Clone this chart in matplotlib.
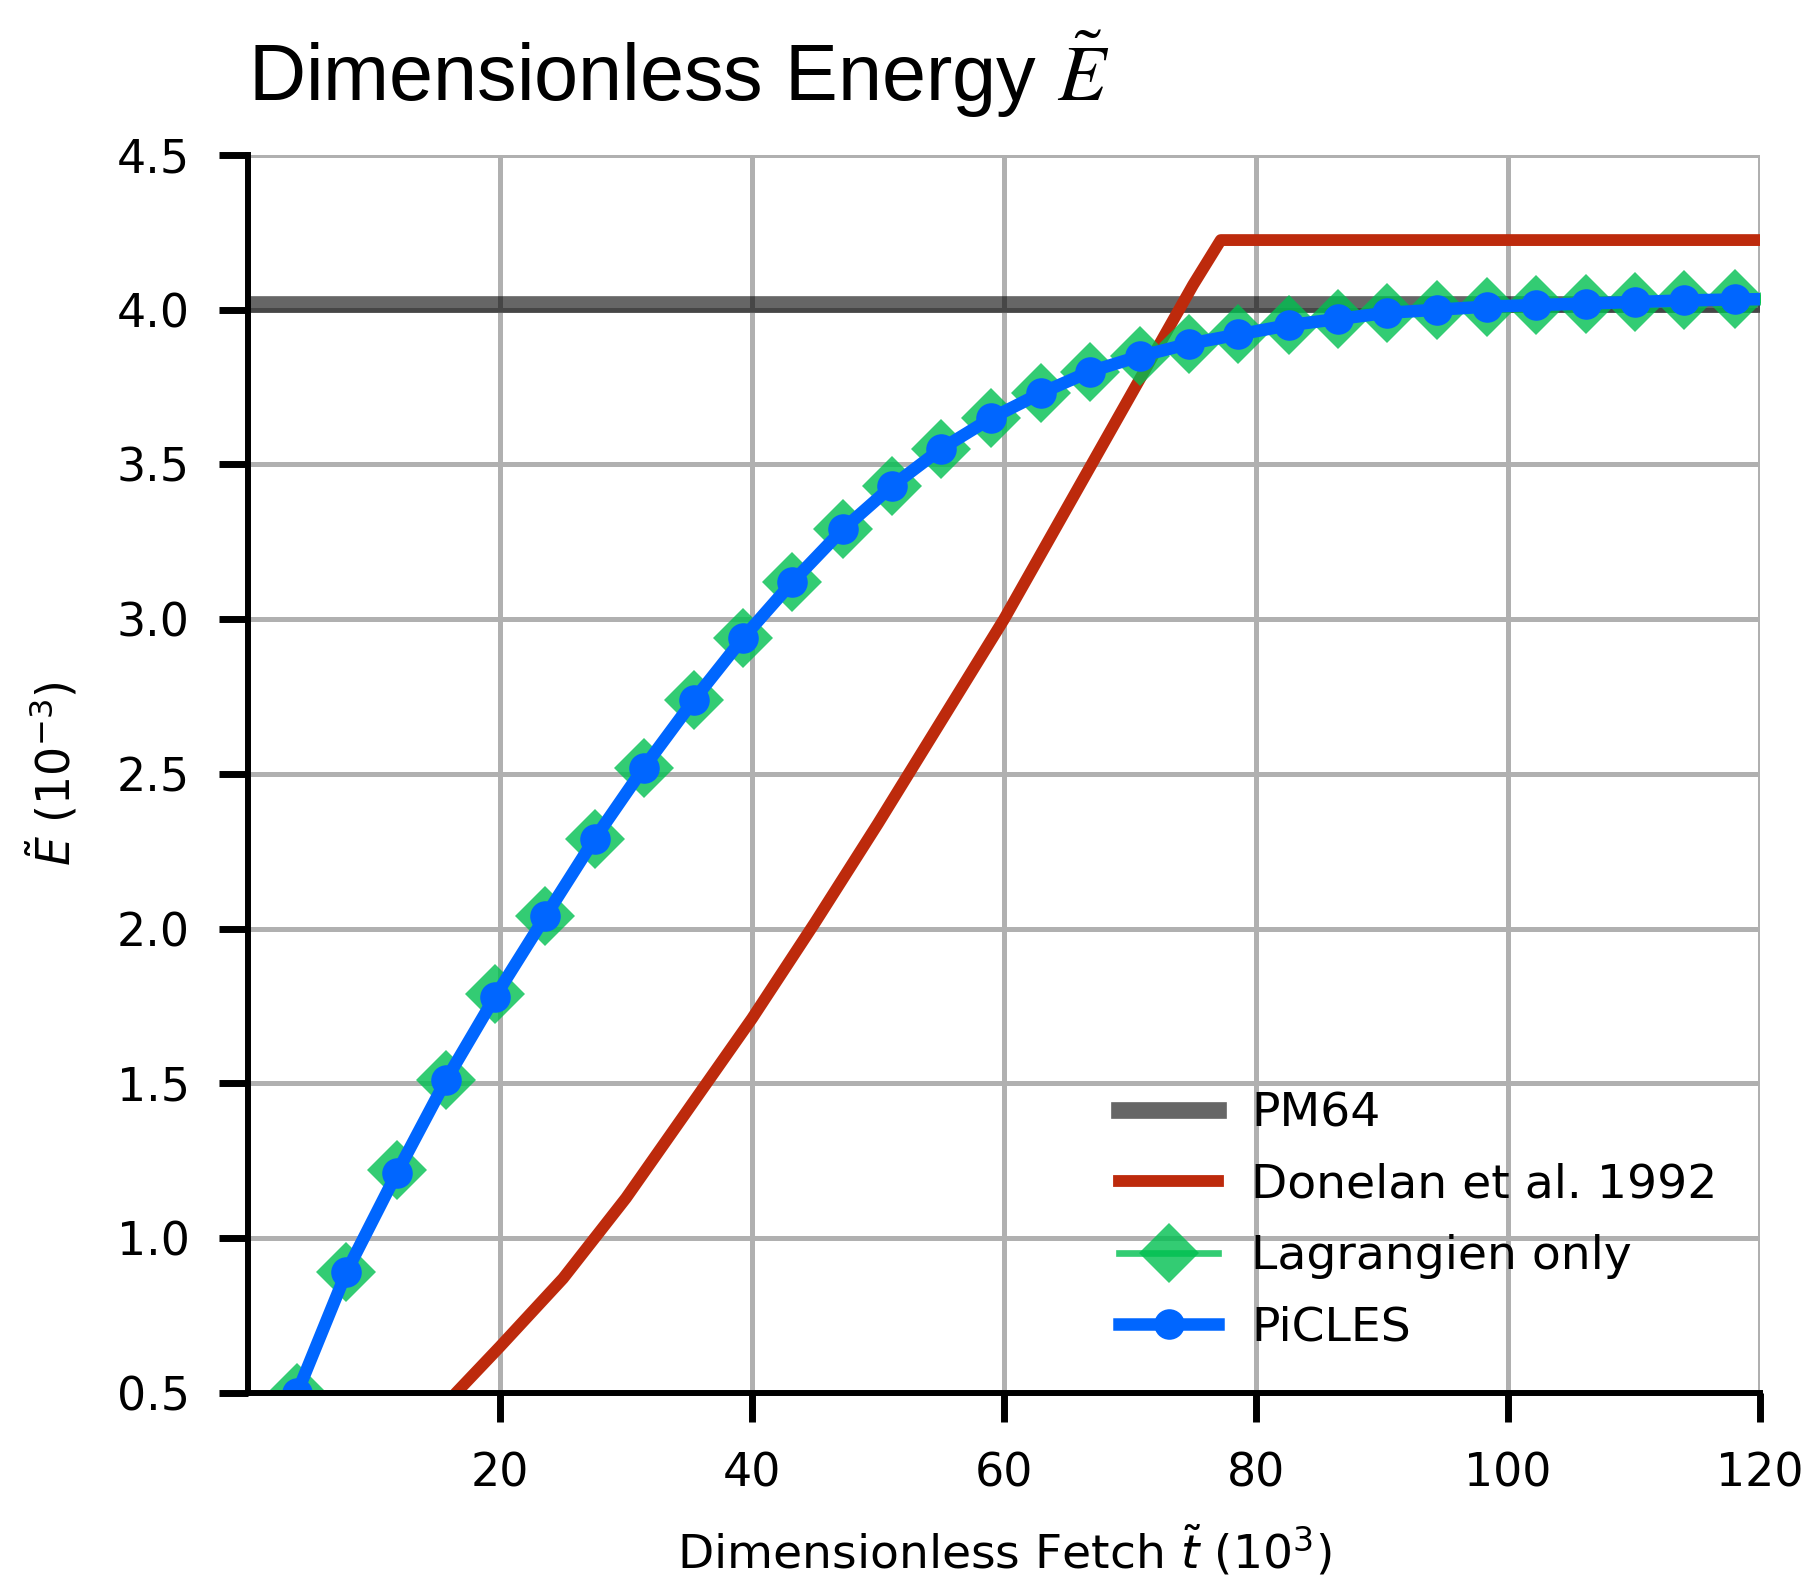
import matplotlib
matplotlib.use("Agg")
import matplotlib.pyplot as plt

# Dimensionless fetch (10^3) of the model outputs
fetch = [3.9, 7.8, 11.8, 15.7, 19.6, 23.6, 27.5, 31.4, 35.4, 39.3,
         43.2, 47.2, 51.1, 55.0, 59.0, 62.9, 66.8, 70.8, 74.7, 78.6,
         82.6, 86.5, 90.4, 94.4, 98.3, 102.2, 106.2, 110.1, 114.0, 118.0, 121.9]

# Dimensionless energy (10^-3)
energy_lagr = [0.50, 0.89, 1.22, 1.51, 1.79, 2.04, 2.29, 2.52, 2.74, 2.94,
               3.12, 3.29, 3.43, 3.55, 3.65, 3.73, 3.80, 3.85, 3.89, 3.92,
               3.95, 3.97, 3.99, 4.00, 4.01, 4.015, 4.02, 4.025, 4.03, 4.033, 4.035]
energy_picles = [0.50, 0.89, 1.21, 1.51, 1.78, 2.04, 2.29, 2.52, 2.74, 2.94,
                 3.12, 3.29, 3.43, 3.55, 3.65, 3.73, 3.80, 3.85, 3.89, 3.92,
                 3.95, 3.97, 3.99, 4.00, 4.01, 4.015, 4.02, 4.025, 4.03, 4.033, 4.035]

# Donelan et al. (1992) growth curve and its fully developed plateau
donelan_t = [14.5, 16.5, 20, 25, 30, 35, 40, 45, 50, 55, 60, 65, 70, 75, 77.2, 125]
donelan_E = [0.40, 0.50, 0.65, 0.87, 1.13, 1.42, 1.71, 2.02, 2.34, 2.67,
             3.00, 3.36, 3.72, 4.08, 4.225, 4.225]

# Pierson-Moskowitz (1964) limit
pm64_E = 4.02

xticks = [20, 40, 60, 80, 100, 120]
yticks = [0.5, 1.0, 1.5, 2.0, 2.5, 3.0, 3.5, 4.0, 4.5]

fig = plt.figure(figsize=(18.13, 15.86), dpi=100)
ax = fig.add_axes([0.1368, 0.1217, 0.834, 0.7806])

ax.axhline(pm64_E, color="black", alpha=0.6, lw=12, label="PM64")
ax.plot(donelan_t, donelan_E, color="#bd2a0c", lw=8.5, label="Donelan et al. 1992")
ax.plot(fetch, energy_lagr, "D-", color="#00c050", alpha=0.8, lw=4.8, ms=31,
        markeredgewidth=0, label="Lagrangien only")
ax.plot(fetch, energy_picles, "o-", color="#0066ff", lw=9, ms=22,
        markeredgewidth=0, label="PiCLES")

ax.set_xlim(0, 120)
ax.set_ylim(0.5, 4.5)
ax.set_xticks(xticks)
ax.set_yticks(yticks)
ax.set_axisbelow(True)
ax.grid(True, color="#b0b0b0", lw=3.6)

for side in ["top", "right"]:
    ax.spines[side].set_visible(False)
for side in ["left", "bottom"]:
    ax.spines[side].set_linewidth(4.3)
    ax.spines[side].set_color("black")

ax.tick_params(direction="out", length=21, width=5, pad=21, labelsize=33)

ax.set_xlabel(r"Dimensionless Fetch $\tilde{t}$ $(10^3)$", fontsize=34, labelpad=20)
ax.set_ylabel(r"$\tilde{E}$ $(10^{-3})$", fontsize=33, labelpad=26)
ax.set_title(r"Dimensionless Energy $\tilde{E}$", loc="left", fontsize=57,
             fontfamily="Liberation Sans", math_fontfamily="stix", pad=39)

ax.legend(loc="lower right", frameon=False, fontsize=34, handlelength=2.1,
          handletextpad=0.7, labelspacing=0.56)

fig.savefig("out.png", dpi=100)
